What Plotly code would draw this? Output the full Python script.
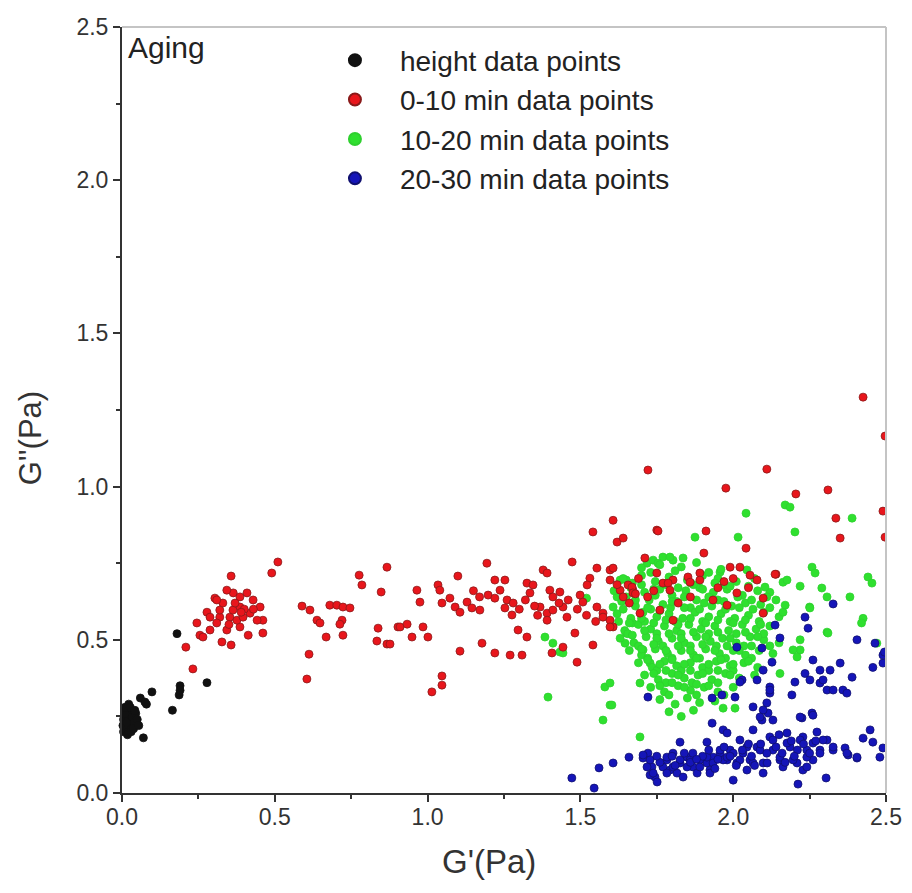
import plotly.graph_objects as go

# ---------------- data (G' in Pa, G'' in Pa) ----------------
height_x = [0.005, 0.01, 0.012, 0.015, 0.02, 0.02, 0.025, 0.028, 0.03, 0.035, 0.04, 0.045, 0.005, 0.008,
            0.018, 0.03, 0.038, 0.05, 0.055, 0.01, 0.022, 0.003, 0.015, 0.027, 0.042,
            0.18, 0.278, 0.19, 0.19, 0.187, 0.165, 0.098, 0.06, 0.08, 0.07, 0.075]
height_y = [0.20, 0.22, 0.25, 0.27, 0.23, 0.21, 0.26, 0.24, 0.22, 0.25, 0.23, 0.26, 0.24, 0.26,
            0.19, 0.20, 0.21, 0.24, 0.22, 0.28, 0.29, 0.22, 0.23, 0.28, 0.27,
            0.52, 0.36, 0.35, 0.335, 0.32, 0.27, 0.33, 0.31, 0.29, 0.18, 0.297]

min0_10_x = [0.357, 0.49, 0.51, 0.209, 0.232, 0.245, 0.255, 0.278, 0.304, 0.32, 0.343, 0.357, 0.327, 0.364,
             0.386, 0.409, 0.429, 0.452, 0.461, 0.461, 0.413, 0.386, 0.31, 0.288, 0.33, 0.353, 0.376, 0.396,
             0.419, 0.363, 0.32, 0.442, 0.288, 0.265, 0.31, 0.386, 0.343, 0.40, 0.37, 0.35, 0.43, 0.39,
             0.589, 0.615, 0.638, 0.648, 0.668, 0.612, 0.605, 0.68, 0.703, 0.723, 0.746, 0.72, 0.713, 0.723,
             0.776, 0.785, 0.848, 0.867, 0.838, 0.834, 0.867, 0.877, 0.903,
             0.91, 0.933, 0.949, 0.965, 0.975, 0.985, 1.001, 1.034, 1.04, 1.047, 1.073, 1.09, 1.106, 1.099,
             1.106, 1.014, 1.047, 1.047, 1.129, 1.145, 1.171, 1.178, 1.194, 1.198, 1.22, 1.22, 1.253, 1.237,
             1.22, 1.253, 1.26, 1.276, 1.27, 1.309, 1.296, 1.325, 1.325, 1.345, 1.335, 1.368, 1.391, 1.41,
             1.391, 1.378, 1.391, 1.40, 1.41, 1.433, 1.443, 1.456, 1.407, 1.443, 1.473, 1.482, 1.489, 1.541,
             1.554, 1.597, 1.597, 1.531, 1.522, 1.499, 1.508, 1.541, 1.607, 1.62, 1.64, 1.75, 1.554, 1.574,
             1.597, 1.607, 1.63, 1.656, 1.672, 1.711, 1.75, 1.77, 1.803, 1.76, 1.803,
             1.28, 1.30, 1.32, 1.35, 1.36, 1.17, 1.15, 1.43, 1.46, 1.49, 1.52, 1.55,
             2.425, 2.497, 2.11, 1.976, 2.205, 2.31, 2.49, 2.497, 2.336, 2.35, 1.721, 1.754, 1.911, 1.904,
             2.042, 2.14, 1.607, 1.669, 1.672, 1.787, 1.793, 1.852, 1.859, 1.891, 1.891, 1.99, 2.022, 2.055,
             2.078, 2.098, 2.098, 1.934, 1.98, 1.695, 1.574, 1.597, 2.012, 2.137,
             1.64, 1.66, 1.68, 1.62, 1.69, 1.72, 1.74, 1.82, 1.86, 1.95, 2.05, 2.0, 1.97]
min0_10_y = [0.708, 0.718, 0.754, 0.476, 0.405, 0.555, 0.515, 0.59, 0.636, 0.574, 0.532, 0.483, 0.493, 0.653,
             0.607, 0.653, 0.63, 0.607, 0.564, 0.522, 0.515, 0.542, 0.555, 0.532, 0.62, 0.574, 0.564, 0.574,
             0.587, 0.597, 0.597, 0.564, 0.574, 0.509, 0.63, 0.64, 0.662, 0.60, 0.62, 0.55, 0.60, 0.59,
             0.61, 0.597, 0.564, 0.555, 0.509, 0.453, 0.372, 0.613, 0.613, 0.607, 0.604, 0.564, 0.551, 0.515,
             0.711, 0.679, 0.656, 0.737, 0.538, 0.496, 0.486, 0.486, 0.542,
             0.542, 0.551, 0.509, 0.662, 0.623, 0.542, 0.509, 0.679, 0.662, 0.62, 0.636, 0.607, 0.59, 0.708,
             0.463, 0.33, 0.352, 0.382, 0.623, 0.604, 0.597, 0.489, 0.75, 0.646, 0.636, 0.695, 0.695, 0.662,
             0.457, 0.604, 0.63, 0.581, 0.45, 0.45, 0.532, 0.509, 0.685, 0.679, 0.653, 0.607, 0.587, 0.597,
             0.564, 0.728, 0.718, 0.662, 0.64, 0.656, 0.607, 0.574, 0.457, 0.476, 0.754, 0.522, 0.427, 0.483,
             0.734, 0.728, 0.695, 0.701, 0.679, 0.646, 0.623, 0.852, 0.89, 0.819, 0.832, 0.858, 0.607, 0.587,
             0.564, 0.542, 0.662, 0.679, 0.662, 0.767, 0.718, 0.685, 0.695, 0.597, 0.564,
             0.62, 0.60, 0.63, 0.61, 0.58, 0.64, 0.66, 0.62, 0.63, 0.60, 0.58, 0.56,
             1.292, 1.165, 1.057, 0.995, 0.976, 0.989, 0.92, 0.835, 0.897, 0.832, 1.054, 0.855, 0.855, 0.783,
             0.799, 0.714, 0.734, 0.672, 0.653, 0.685, 0.662, 0.705, 0.688, 0.718, 0.695, 0.737, 0.737, 0.711,
             0.695, 0.636, 0.587, 0.63, 0.613, 0.587, 0.574, 0.542, 0.653, 0.714,
             0.64, 0.62, 0.65, 0.68, 0.70, 0.64, 0.66, 0.62, 0.64, 0.67, 0.67, 0.70, 0.69]

min10_20_x = [1.394, 1.574, 1.597, 1.58, 1.597, 1.695, 1.384, 1.41, 1.433, 1.443, 1.52,
              1.63, 1.65, 1.62, 1.607, 1.67, 1.65, 1.646, 1.705, 1.728, 1.695, 1.718, 1.738, 1.77, 1.803,
              1.875, 2.016, 1.793, 1.836, 1.754, 1.957, 2.045,
              1.70, 1.76, 1.83, 1.88, 1.96,
              1.64, 1.70, 1.745, 1.79, 1.85, 1.90, 1.95, 2.01, 2.07,
              1.61, 1.665, 1.71, 1.76, 1.80, 1.845, 1.89, 1.935, 1.98, 2.03, 2.08, 2.12,
              1.635, 1.68, 1.725, 1.77, 1.815, 1.86, 1.905, 1.95, 1.995, 2.04, 2.09, 2.14,
              1.62, 1.665, 1.705, 1.75, 1.79, 1.835, 1.875, 1.92, 1.96, 2.005, 2.05, 2.10, 2.15,
              1.60, 1.645, 1.69, 1.73, 1.775, 1.815, 1.855, 1.895, 1.94, 1.985, 2.03, 2.075, 2.12,
              1.63, 1.675, 1.715, 1.755, 1.80, 1.84, 1.88, 1.925, 1.965, 2.01, 2.055, 2.10, 2.15,
              1.66, 1.70, 1.745, 1.785, 1.83, 1.87, 1.91, 1.955, 2.0, 2.04, 2.085, 2.13,
              1.69, 1.735, 1.775, 1.815, 1.86, 1.90, 1.945, 1.99, 2.035, 2.08,
              1.71, 1.755, 1.80, 1.84, 1.885, 1.93, 1.975, 2.02, 2.07,
              1.73, 1.775, 1.82, 1.86, 1.905, 1.95, 2.0,
              1.76, 1.81, 1.85, 1.89, 1.94,
              1.79, 1.83, 1.87,
              1.73, 1.81, 1.92,
              1.67, 1.78, 1.87, 1.97, 2.05,
              1.65, 1.745, 1.84, 1.92, 2.015, 2.11,
              1.64, 1.73, 1.795, 1.89, 1.975, 2.065, 2.12,
              1.625, 1.71, 1.81, 1.90, 1.99, 2.085,
              1.655, 1.75, 1.83, 1.92, 2.01, 2.10,
              1.69, 1.77, 1.86, 1.945, 2.035, 2.12,
              1.72, 1.80, 1.89, 1.975, 2.06,
              1.75, 1.83, 1.92, 2.00,
              1.78, 1.865, 1.95,
              1.79, 1.88, 1.97,
              1.68, 1.72, 1.76, 1.80, 1.84, 1.88, 1.93, 1.97, 2.02, 2.06,
              1.66, 1.70, 1.74, 1.78, 1.82, 1.86, 1.91, 1.95, 2.0, 2.04, 2.09,
              1.67, 1.71, 1.75, 1.79, 1.83, 1.87, 1.91, 1.95, 1.99, 2.04, 2.08,
              1.70, 1.74, 1.78, 1.82, 1.86, 1.90, 1.94, 1.98, 2.02, 2.06,
              1.72, 1.76, 1.80, 1.84, 1.88, 1.92, 1.96, 2.0, 2.05,
              1.74, 1.78, 1.82, 1.86, 1.90, 1.95, 1.99,
              1.76, 1.80, 1.84, 1.88, 1.92,
              1.70, 1.74, 1.78, 1.82, 1.86, 1.90, 1.94, 1.99,
              1.967, 2.006, 1.603,
              2.153, 2.219, 2.25, 2.307, 2.425, 2.47, 2.17, 2.186, 2.389, 2.202, 2.258, 2.268, 2.441, 2.454,
              2.163, 2.176, 2.219, 2.29, 2.307, 2.382, 2.251, 2.17, 2.163, 2.42, 2.31, 2.219, 2.196, 2.209,
              2.104, 2.042]
min10_20_y = [0.313, 0.238, 0.287, 0.346, 0.359, 0.183, 0.509, 0.489, 0.46, 0.457, 0.636,
              0.695, 0.695, 0.64, 0.607, 0.555, 0.522, 0.489, 0.467, 0.424, 0.359, 0.75, 0.76, 0.77, 0.76,
              0.835, 0.835, 0.77, 0.767, 0.75, 0.721, 0.728,
              0.735, 0.745, 0.738, 0.752, 0.73,
              0.70, 0.71, 0.69, 0.705, 0.695, 0.71, 0.70, 0.69, 0.70,
              0.66, 0.67, 0.655, 0.665, 0.645, 0.66, 0.67, 0.655, 0.665, 0.645, 0.66, 0.655,
              0.625, 0.61, 0.63, 0.615, 0.625, 0.605, 0.62, 0.63, 0.61, 0.62, 0.615, 0.63,
              0.585, 0.57, 0.59, 0.575, 0.585, 0.57, 0.59, 0.575, 0.585, 0.57, 0.58, 0.59, 0.575,
              0.545, 0.53, 0.55, 0.535, 0.545, 0.53, 0.55, 0.535, 0.545, 0.53, 0.55, 0.535, 0.545,
              0.505, 0.49, 0.51, 0.495, 0.505, 0.49, 0.51, 0.495, 0.505, 0.49, 0.51, 0.50, 0.49,
              0.465, 0.45, 0.47, 0.455, 0.465, 0.45, 0.47, 0.455, 0.465, 0.45, 0.465, 0.455,
              0.425, 0.41, 0.43, 0.415, 0.425, 0.41, 0.43, 0.415, 0.425, 0.41,
              0.385, 0.37, 0.39, 0.375, 0.385, 0.37, 0.39, 0.375, 0.385,
              0.345, 0.33, 0.35, 0.335, 0.345, 0.33, 0.345,
              0.305, 0.29, 0.31, 0.295, 0.30,
              0.265, 0.25, 0.27,
              0.72, 0.725, 0.72,
              0.685, 0.68, 0.68, 0.68, 0.675,
              0.64, 0.645, 0.64, 0.64, 0.64, 0.64,
              0.60, 0.60, 0.605, 0.60, 0.60, 0.60, 0.605,
              0.56, 0.56, 0.56, 0.56, 0.56, 0.56,
              0.52, 0.52, 0.52, 0.52, 0.52, 0.52,
              0.48, 0.48, 0.48, 0.48, 0.48, 0.48,
              0.44, 0.44, 0.44, 0.44, 0.44,
              0.40, 0.40, 0.40, 0.40,
              0.36, 0.36, 0.36,
              0.32, 0.32, 0.32,
              0.63, 0.605, 0.595, 0.625, 0.605, 0.63, 0.61, 0.625, 0.605, 0.63,
              0.555, 0.57, 0.555, 0.565, 0.55, 0.57, 0.555, 0.565, 0.555, 0.565, 0.55,
              0.515, 0.53, 0.505, 0.52, 0.505, 0.525, 0.51, 0.525, 0.505, 0.525, 0.51,
              0.47, 0.485, 0.465, 0.48, 0.465, 0.485, 0.465, 0.48, 0.465, 0.48,
              0.435, 0.42, 0.435, 0.42, 0.44, 0.42, 0.435, 0.42, 0.43,
              0.39, 0.40, 0.385, 0.40, 0.39, 0.40, 0.385,
              0.35, 0.36, 0.345, 0.355, 0.35,
              0.68, 0.665, 0.685, 0.67, 0.685, 0.665, 0.685, 0.675,
              0.277, 0.277, 0.287,
              0.39, 0.467, 0.607, 0.525, 0.57, 0.489, 0.94, 0.933, 0.897, 0.852, 0.737, 0.718, 0.705, 0.685,
              0.688, 0.695, 0.675, 0.669, 0.64, 0.64, 0.604, 0.613, 0.59, 0.555, 0.522, 0.5, 0.467, 0.444,
              0.672, 0.913]

min20_30_x = [1.472, 1.545, 1.561, 1.607, 1.659, 1.705, 1.721, 1.734, 1.744, 1.728, 1.721, 1.826, 1.914,
              1.931, 1.931, 1.963, 1.967,
              1.783, 1.803, 1.826, 1.849, 1.868, 1.891, 1.914, 1.934, 1.957, 1.98, 1.816, 1.882, 1.924,
              1.793, 1.859, 1.77,
              2.0, 2.212, 2.304, 2.457, 2.49, 2.389, 2.317, 2.35, 2.235, 2.202, 2.251, 2.284, 2.307, 2.327,
              2.359, 2.372, 2.098, 2.12, 2.12, 2.11, 2.114, 2.094, 2.13, 2.192, 2.065, 2.006, 2.225, 2.258,
              2.448, 2.425, 2.457, 2.49, 2.48, 2.405, 2.376, 2.366, 2.327, 2.307,
              1.98, 2.022, 2.065, 2.12, 2.176, 2.228, 2.274, 2.294, 1.99, 2.032, 2.078, 2.13, 2.186, 2.241,
              2.284, 1.967, 2.012, 2.055, 2.098, 2.153, 2.209, 2.261, 2.045, 2.098, 2.163, 2.228,
              2.327, 2.235, 2.245, 2.137, 2.153, 2.012, 2.094, 2.127, 2.029, 2.098, 2.088, 2.219, 2.261,
              2.294, 2.284, 2.261, 2.405, 2.464, 2.49, 2.495,
              1.705, 1.728, 1.718, 1.738, 1.751,
              1.783, 1.826, 1.868, 1.914, 1.957, 2.0, 2.045, 2.088, 2.13, 2.176, 2.219, 2.261, 2.284, 2.241,
              2.196, 2.153, 2.111, 2.065, 2.022, 1.98, 1.934, 1.891, 1.849, 1.803, 1.783, 1.836, 1.924,
              2.241, 2.327, 2.372, 2.405, 2.078, 2.022, 2.12,
              1.76, 1.80, 1.84, 1.86, 1.90, 1.92, 1.95, 1.99, 2.03, 2.06, 2.09, 2.11, 2.14, 2.16, 2.19,
              2.21, 2.23, 2.25, 2.27, 2.20, 2.05, 1.97, 1.88, 1.81, 1.75, 2.15, 2.07, 2.17, 2.01, 1.94]
min20_30_y = [0.049, 0.016, 0.082, 0.098, 0.117, 0.114, 0.13, 0.085, 0.052, 0.059, 0.313, 0.166, 0.166,
              0.228, 0.31, 0.32, 0.206,
              0.108, 0.13, 0.098, 0.117, 0.085, 0.108, 0.098, 0.117, 0.13, 0.108, 0.065, 0.065, 0.075,
              0.075, 0.108, 0.085,
              0.042, 0.029, 0.049, 0.41, 0.424, 0.378, 0.401, 0.424, 0.39, 0.362, 0.369, 0.359, 0.336, 0.336,
              0.336, 0.326, 0.401, 0.346, 0.326, 0.294, 0.261, 0.238, 0.238, 0.32, 0.281, 0.313, 0.245, 0.261,
              0.206, 0.179, 0.166, 0.147, 0.117, 0.114, 0.124, 0.147, 0.14, 0.173,
              0.196, 0.173, 0.206, 0.183, 0.196, 0.183, 0.199, 0.173, 0.14, 0.13, 0.15, 0.14, 0.15, 0.14,
              0.14, 0.108, 0.098, 0.108, 0.098, 0.108, 0.098, 0.108, 0.075, 0.065, 0.085, 0.075,
              0.617, 0.574, 0.538, 0.548, 0.506, 0.476, 0.473, 0.427, 0.369, 0.271, 0.248, 0.248, 0.254,
              0.369, 0.401, 0.434, 0.5, 0.489, 0.45, 0.46,
              0.124, 0.108, 0.085, 0.065, 0.036,
              0.117, 0.108, 0.13, 0.117, 0.14, 0.13, 0.15, 0.14, 0.173, 0.163, 0.173, 0.163, 0.13, 0.117,
              0.108, 0.117, 0.098, 0.098, 0.108, 0.117, 0.098, 0.085, 0.085, 0.085, 0.065, 0.052, 0.065,
              0.085, 0.15, 0.13, 0.117, 0.369, 0.362, 0.336,
              0.10, 0.12, 0.13, 0.10, 0.12, 0.14, 0.11, 0.12, 0.14, 0.12, 0.16, 0.13, 0.15, 0.13, 0.17,
              0.14, 0.16, 0.13, 0.17, 0.12, 0.16, 0.15, 0.11, 0.09, 0.12, 0.19, 0.09, 0.10, 0.09, 0.08]

series_names = ["height data points", "0-10 min data points", "10-20 min data points", "20-30 min data points"]
series_colors = ["#111111", "#e8161c", "#2fe02f", "#1515b8"]
edge_colors = ["#111111", "#8a1a1a", "#2fd02f", "#101070"]

x_ticks = [0.0, 0.5, 1.0, 1.5, 2.0, 2.5]
y_ticks = [0.0, 0.5, 1.0, 1.5, 2.0, 2.5]

# ---------------- figure ----------------
fig = go.Figure()
all_x = [height_x, min0_10_x, min10_20_x, min20_30_x]
all_y = [height_y, min0_10_y, min10_20_y, min20_30_y]
draw_order = [0, 2, 1, 3]   # green drawn beneath red; legend keeps series order via legendrank
for i in draw_order:
    fig.add_trace(go.Scatter(
        x=all_x[i], y=all_y[i], mode="markers", name=series_names[i],
        legendgroup=f"g{i}", legendrank=i + 1,
        marker=dict(size=8, color=series_colors[i], line=dict(color=edge_colors[i], width=0.8)),
        cliponaxis=(i != 0),
    ))

font_family = "Liberation Sans, Arial, sans-serif"
axis_common = dict(
    range=[0, 2.5], tickvals=x_ticks, tickformat=".1f", automargin=False,
    showline=True, linecolor="#333333", linewidth=2, mirror=False,
    ticks="outside", ticklen=7, tickwidth=2, tickcolor="#333333",
    minor=dict(dtick=0.25, ticks="outside", ticklen=4, tickwidth=2, tickcolor="#333333"),
    showgrid=False, zeroline=False,
    tickfont=dict(size=23, color="#333333", family=font_family),
)

fig.update_layout(
    width=912, height=893,
    margin=dict(l=114, r=34, t=19, b=108),
    paper_bgcolor="white", plot_bgcolor="white",
    font=dict(family=font_family, color="#222222"),
    xaxis=dict(**axis_common, ticklabelstandoff=-5),
    yaxis=dict(**{**axis_common, "tickvals": y_ticks}),
    legend=dict(x=0.246, y=0.989, xanchor="left", yanchor="top", bgcolor="rgba(0,0,0,0)",
                font=dict(size=28, color="#222222", family=font_family),
                tracegroupgap=0, itemwidth=80, itemsizing="constant"),
    showlegend=True,
    shapes=[
        dict(type="line", xref="paper", yref="paper", x0=0, x1=1, y0=1, y1=1,
             line=dict(color="#c4c4c4", width=2)),
        dict(type="line", xref="paper", yref="paper", x0=1, x1=1, y0=0, y1=1,
             line=dict(color="#c4c4c4", width=2)),
    ],
    annotations=[
        dict(text="Aging", xref="paper", yref="paper", x=0.005, y=0.997, xanchor="left", yanchor="top",
             showarrow=False, font=dict(size=30, color="#222222", family=font_family)),
        dict(text="G'(Pa)", xref="paper", yref="paper", x=0.480, y=-0.090, xanchor="center",
             yanchor="middle", showarrow=False, font=dict(size=33, color="#333333", family=font_family)),
        dict(text="G''(Pa)", xref="paper", yref="paper", x=-0.1204, y=0.463, xanchor="center",
             yanchor="middle", textangle=-90, showarrow=False,
             font=dict(size=31, color="#333333", family=font_family)),
    ],
)

fig.write_html("out.html")
